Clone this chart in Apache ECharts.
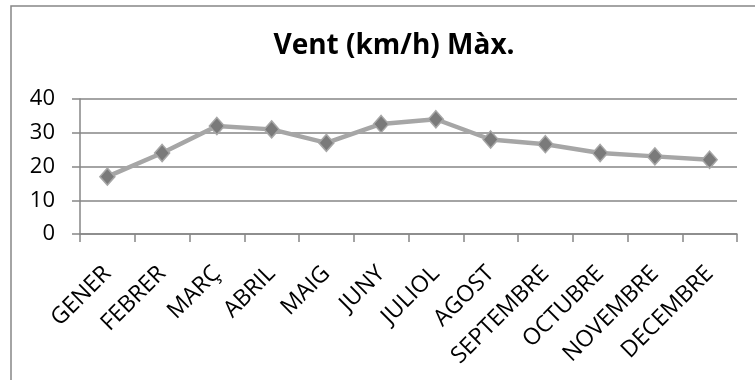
<!DOCTYPE html>
<html>
<head>
<meta charset="utf-8">
<script src="https://cdn.jsdelivr.net/npm/echarts@6/dist/echarts.min.js"></script>
<style>
  html, body { margin: 0; padding: 0; background: #fff; }
  #chart { width: 755px; height: 380px; }
</style>
</head>
<body>
<div id="chart"></div>
<script>
// dades
var mesos = ['GENER', 'FEBRER', 'MARÇ', 'ABRIL', 'MAIG', 'JUNY', 'JULIOL', 'AGOST', 'SEPTEMBRE', 'OCTUBRE', 'NOVEMBRE', 'DECEMBRE'];
var ventMax = [17, 24, 32, 31, 27, 32.6, 34, 28, 26.6, 24, 23, 22];
var titol = 'Vent (km/h) Màx.';

var gris = '#868686';
var font = '"Open Sans", "Noto Sans", sans-serif';

var myChart = echarts.init(document.getElementById('chart'));
var option = {
    animation: false,
    backgroundColor: '#fff',
    title: {
        text: titol,
        left: 389,
        top: 27,
        textAlign: 'center',
        textStyle: {
            fontFamily: font,
            fontSize: 28,
            fontWeight: 'bold',
            color: '#000'
        }
    },
    graphic: [{
        type: 'rect',
        shape: { x: 11, y: 6, width: 800, height: 420 },
        style: { fill: 'none', stroke: gris, lineWidth: 1.5 },
        silent: true
    }],
    grid: {
        left: 80,
        right: 18,
        top: 99,
        bottom: 146
    },
    xAxis: {
        type: 'category',
        data: mesos,
        boundaryGap: true,
        axisLine: { lineStyle: { color: gris, width: 1.5 } },
        axisTick: { show: true, length: 8, lineStyle: { color: gris, width: 1.5 } },
        axisLabel: {
            interval: 0,
            rotate: 45,
            margin: 36,
            fontFamily: font,
            fontSize: 23,
            color: '#000'
        }
    },
    yAxis: {
        type: 'value',
        min: 0,
        max: 40,
        interval: 10,
        axisLine: { show: true, lineStyle: { color: gris, width: 1.5 } },
        axisTick: { show: true, length: 8, lineStyle: { color: gris, width: 1.5 } },
        splitLine: { show: true, lineStyle: { color: gris, width: 1.5 } },
        axisLabel: {
            margin: 25,
            fontFamily: font,
            fontSize: 22,
            color: '#000'
        }
    },
    series: [{
        name: titol,
        type: 'line',
        data: ventMax,
        symbol: 'diamond',
        symbolSize: [15, 17],
        lineStyle: { color: '#a6a6a6', width: 4.5 },
        itemStyle: { color: '#7a7a7a', borderColor: '#a6a6a6', borderWidth: 1.5 }
    }]
};
myChart.setOption(option);
</script>
</body>
</html>
